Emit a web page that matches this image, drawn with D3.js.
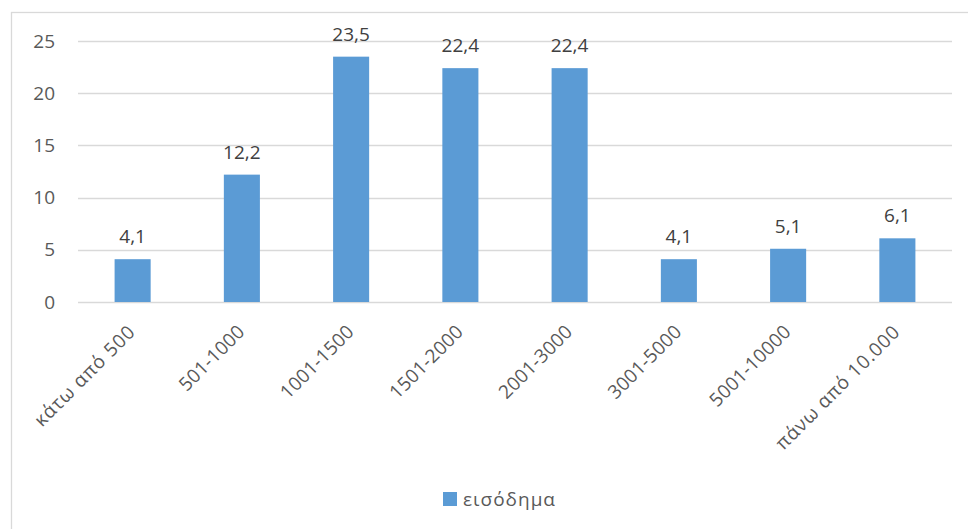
<!DOCTYPE html>
<html>
<head>
<meta charset="utf-8">
<script src="https://cdn.jsdelivr.net/npm/d3@7"></script>
<style>
	body { margin: 0; background: #fff; }
	text { font-family: 'Open Sans', sans-serif; }
</style>
</head>
<body>
<script>
const categories = ['κάτω από 500', '501-1000', '1001-1500', '1501-2000', '2001-3000', '3001-5000', '5001-10000', 'πάνω από 10.000'];
const values = [4.1, 12.2, 23.5, 22.4, 22.4, 4.1, 5.1, 6.1];
const yTicks = [0, 5, 10, 15, 20, 25];
const seriesName = 'εισόδημα';

const w = 968;
const h = 529;
const m = {top: 41, right: 16, bottom: 227, left: 78};

const barColor = '#5b9bd5';
const gridColor = '#d9d9d9';

const greek = d3.formatLocale({decimal: ',', thousands: '.', grouping: [3], currency: ['', '€']});
const fmt = greek.format('.1f');

// greek words look wider in the original font
const isGreek = s => /[\u0370-\u03ff\u1f00-\u1fff]/.test(s);

const svg = d3.select('body').append('svg')
	.attr('width', w)
	.attr('height', h);

// chart frame
svg.append('rect')
	.attr('x', 11.5)
	.attr('y', 12.5)
	.attr('width', w + 20)
	.attr('height', h + 20)
	.attr('fill', 'none')
	.attr('stroke', gridColor)
	.attr('stroke-width', 1.3);

const x = d3.scaleBand()
	.domain(categories)
	.range([m.left, w - m.right])
	.paddingInner(0.67)
	.paddingOuter(0.335);

const y = d3.scaleLinear()
	.domain([0, 25])
	.range([h - m.bottom, m.top]);

// gridlines
svg.append('g')
	.selectAll('line')
	.data(yTicks)
	.enter()
	.append('line')
	.attr('x1', m.left)
	.attr('x2', w - m.right)
	.attr('y1', d => Math.round(y(d)) + 0.5)
	.attr('y2', d => Math.round(y(d)) + 0.5)
	.attr('stroke', gridColor)
	.attr('stroke-width', 1.3);

const yAxis = d3.axisLeft(y)
	.tickValues(yTicks)
	.tickSize(0)
	.tickPadding(23);

svg.append('g')
	.attr('transform', `translate(${m.left},0)`)
	.call(yAxis)
	.call(g => g.select('.domain').remove())
	.call(g => g.selectAll('text')
		.attr('font-size', 19)
		.attr('font-family', "'Open Sans', sans-serif")
		.attr('fill', '#595959'));

svg.append('g')
	.selectAll('rect')
	.data(values)
	.enter()
	.append('rect')
	.attr('x', (d, i) => x(categories[i]))
	.attr('y', d => y(d))
	.attr('width', x.bandwidth())
	.attr('height', d => y(0) - y(d))
	.attr('fill', barColor);

// data labels
svg.append('g')
	.selectAll('text')
	.data(values)
	.enter()
	.append('text')
	.attr('x', (d, i) => x(categories[i]) + x.bandwidth() / 2)
	.attr('y', d => y(d) - 16)
	.attr('text-anchor', 'middle')
	.attr('font-size', 19)
	.attr('fill', '#404040')
	.text(d => fmt(d));

// category labels
svg.append('g')
	.selectAll('text')
	.data(categories)
	.enter()
	.append('text')
	.attr('transform', d => `translate(${x(d) + x.bandwidth() / 2 + 4},${y(0) + 31}) rotate(-45)`)
	.attr('text-anchor', 'end')
	.attr('font-size', 19)
	.attr('letter-spacing', d => isGreek(d) ? 0.9 : 0.2)
	.attr('fill', '#595959')
	.text(d => d);

// legend
const legend = svg.append('g')
	.attr('transform', 'translate(443,492)');

legend.append('rect')
	.attr('width', 14)
	.attr('height', 14)
	.attr('fill', barColor);

legend.append('text')
	.attr('x', 20)
	.attr('y', 14)
	.attr('font-size', 19)
	.attr('letter-spacing', 1)
	.attr('fill', '#595959')
	.text(seriesName);
</script>
</body>
</html>
